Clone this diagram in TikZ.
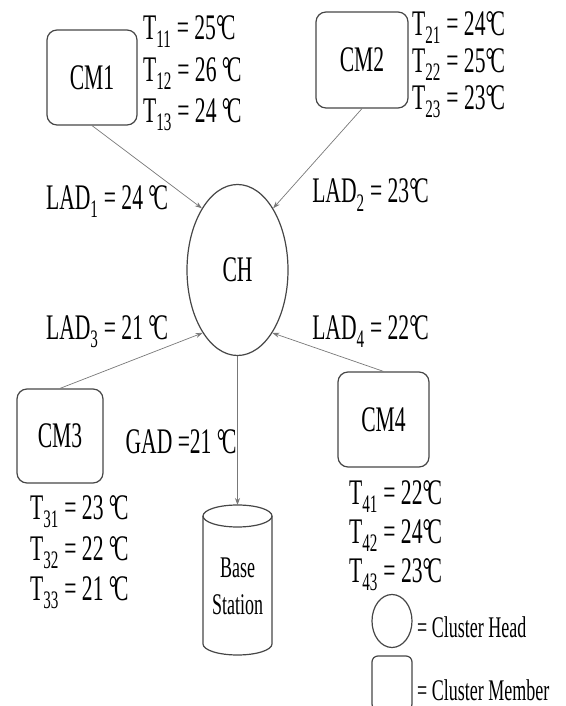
\documentclass[tikz,border=0pt]{standalone}
\usepackage{fontspec}
\setmainfont{Liberation Serif}[FakeStretch=0.6]
\usetikzlibrary{shapes.geometric, arrows.meta, positioning}
\definecolor{line1}{RGB}{70, 70, 70}
\definecolor{edge1}{RGB}{120, 120, 120}
\newcommand{\degc}{°\kern-0.1em C}

\begin{document}
\begin{tikzpicture}[x=1pt, y=1pt,
  member/.style={draw=line1, line width=1.2pt, rounded corners=10pt, inner sep=0pt},
  head/.style={draw=line1, line width=1.2pt, ellipse, inner sep=0pt},
  link/.style={draw=edge1, line width=0.7pt, -{Stealth[length=7pt, width=5pt]}},
  lbl/.style={inner sep=0pt, font=\fontsize{36}{40}\selectfont}]
  \useasboundingbox (0,0) rectangle (565,706);

  % cluster members
  \node[member, lbl, minimum width=90, minimum height=95] (cm1) at (92,628.5) {CM1};
  \node[member, lbl, minimum width=92, minimum height=96] (cm2) at (362,646) {CM2};
  \node[member, lbl, minimum width=86, minimum height=94] (cm3) at (60,270) {CM3};
  \node[member, lbl, minimum width=91, minimum height=95] (cm4) at (383.5,286.5) {CM4};

  % cluster head
  \node[head, lbl, minimum width=101, minimum height=171] (ch) at (237.5,436) {CH};

  % readings of each member
  \node[lbl, anchor=west, align=left, font=\fontsize{36}{41.5}\selectfont] (t1) at (143,632.5)
    {T\textsubscript{11} = 25\degc\\T\textsubscript{12} = 26 \degc\\T\textsubscript{13} = 24 \degc};
  \node[lbl, anchor=west, align=left, font=\fontsize{36}{37}\selectfont] (t2) at (412,641)
    {T\textsubscript{21} = 24\degc\\T\textsubscript{22} = 25\degc\\T\textsubscript{23} = 23\degc};
  \node[lbl, anchor=west, align=left, font=\fontsize{36}{40.5}\selectfont] (t3) at (30,153.5)
    {T\textsubscript{31} = 23 \degc\\T\textsubscript{32} = 22 \degc\\T\textsubscript{33} = 21 \degc};
  \node[lbl, anchor=west, align=left, font=\fontsize{36}{39}\selectfont] (t4) at (349,170)
    {T\textsubscript{41} = 22\degc\\T\textsubscript{42} = 24\degc\\T\textsubscript{43} = 23\degc};

  % local aggregates
  \node[lbl] (lad1) at (107,504) {LAD\textsubscript{1} = 24 \degc};
  \node[lbl] (lad2) at (370.5,511) {LAD\textsubscript{2} = 23\degc};
  \node[lbl] (lad3) at (107,374) {LAD\textsubscript{3} = 21 \degc};
  \node[lbl] (lad4) at (370.5,374) {LAD\textsubscript{4} = 22\degc};
  \node[lbl] (gad) at (181,264) {GAD =21 \degc};

  % base station
  \coordinate (bstop) at (237.5,201);
  \draw[line1, line width=1.2pt] (203,190) -- (203,62)
    arc[start angle=180, end angle=360, x radius=34.5, y radius=11] -- (272,190);
  \draw[line1, line width=1.2pt] (237.5,190) ellipse [x radius=34.5, y radius=11];
  \node[inner sep=0pt, align=center, font=\fontsize{30}{37}\selectfont] (bs) at (237.5,120) {Base\\Station};

  % links
  \draw[link] (cm1.south) -- (ch.120);
  \draw[link] (cm2.south) -- (ch.60);
  \draw[link] (cm3.north) -- (ch.241);
  \draw[link] (cm4.north) -- (ch.299);
  \draw[link] (ch.south) -- (bstop);

  % legend
  \node[head, minimum width=40, minimum height=53] (legch) at (392,85) {};
  \node[member, rounded corners=6pt, minimum width=40, minimum height=54] (legcm) at (392,23) {};
  \node[inner sep=0pt, anchor=west, font=\fontsize{30}{30}\selectfont] (legchtxt) at (417,79) {= Cluster Head};
  \node[inner sep=0pt, anchor=west, font=\fontsize{30}{30}\selectfont] (legcmtxt) at (417,16) {= Cluster Member};
\end{tikzpicture}
\end{document}
